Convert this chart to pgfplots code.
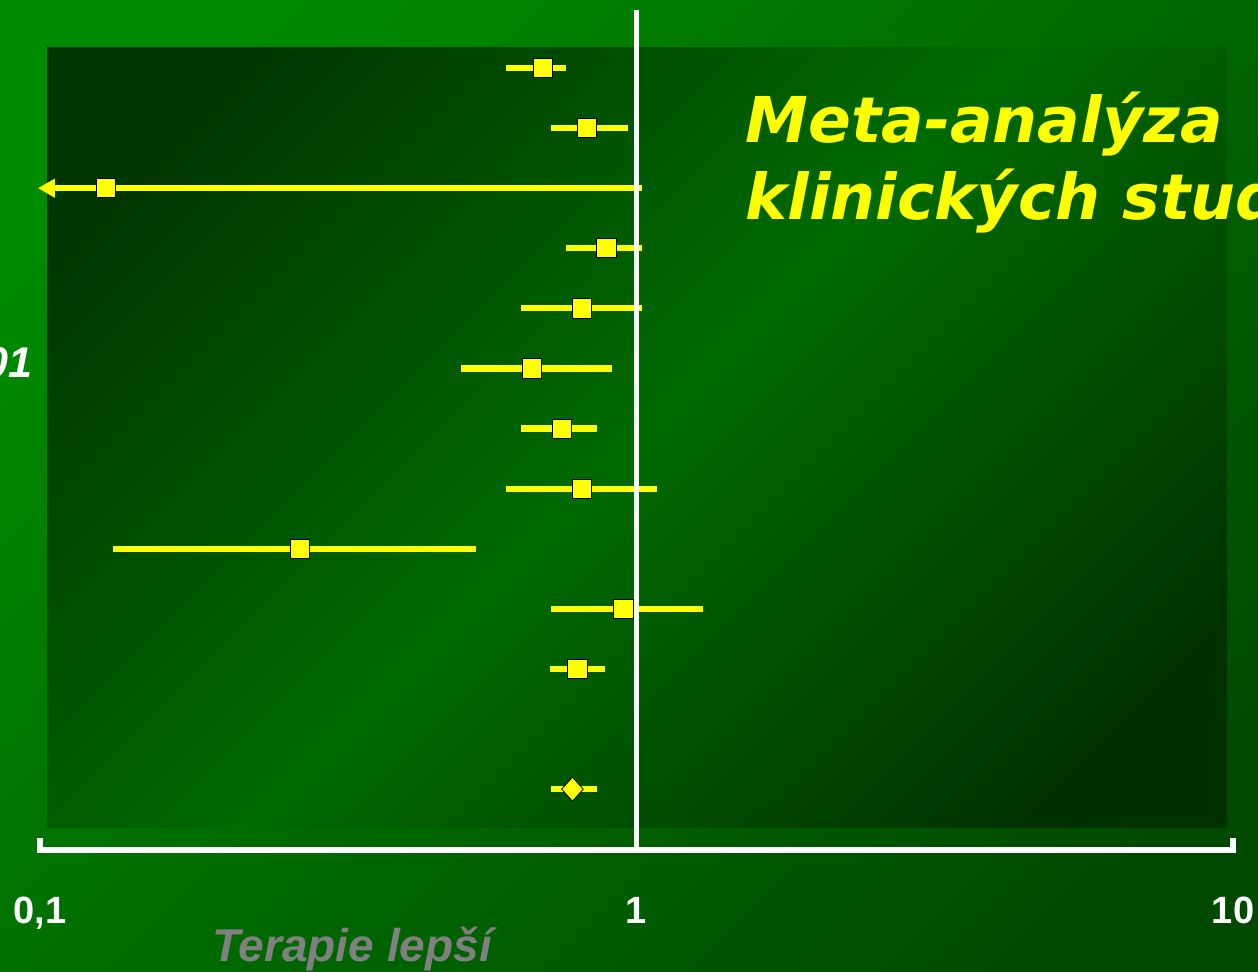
\documentclass[border=0pt]{standalone}
\usepackage{fontspec}
\setmainfont{Liberation Sans}
\newfontfamily\verd{DejaVu Sans}
\usepackage{pgfplots}
\usepackage{pgfplotstable}
\pgfplotsset{compat=1.18}
\usetikzlibrary{arrows.meta}
\definecolor{bgA}{HTML}{008C00}
\definecolor{bgB}{HTML}{004A00}
\definecolor{inA}{HTML}{003600}
\definecolor{inM}{HTML}{006A00}
\definecolor{inB}{HTML}{003200}
\definecolor{ciY}{HTML}{FFFF00}
\definecolor{labgray}{HTML}{808080}
\pgfdeclareverticalshading{innershade}{100bp}{color(0bp)=(inB); color(22bp)=(inB); color(50bp)=(inM); color(78bp)=(inA); color(100bp)=(inA)}
\pgfdeclareverticalshading{outershade}{100bp}{color(0bp)=(bgB); color(22bp)=(bgB); color(78bp)=(bgA); color(100bp)=(bgA)}

% row position (13 = top study), estimate, lower and upper limit
\pgfplotstableread{
y   est    lo     hi
13  0.697  0.605  0.763
12  0.826  0.720  0.966
11  0.129  0.0992 1.02
10  0.890  0.763  1.02
9   0.809  0.641  1.02
8   0.667  0.508  0.910
7   0.750  0.641  0.859
6   0.809  0.605  1.084
5   0.273  0.1326 0.538
4   0.951  0.720  1.294
3   0.796  0.717  0.884
}\studies
\pgfplotstableread{
y   est    lo     hi
1   0.781  0.720  0.859
}\summary

\begin{document}
\begin{tikzpicture}
\useasboundingbox (0,0) rectangle (629pt,486pt);
\clip (0,0) rectangle (629pt,486pt);
\shade[shading=outershade, shading angle=45] (0,0) rectangle (629pt,486pt);
\shade[shading=innershade, shading angle=45] (23.5pt,72pt) rectangle (613.5pt,462pt);

\begin{axis}[
  at={(20pt,61pt)}, anchor=south west,
  scale only axis, width=596.5pt, height=420pt,
  xmode=log, xmin=0.1, xmax=10,
  ymin=-0.012, ymax=13.965,
  clip=false,
  axis line style={draw=none},
  xtick={0.1,1,10}, xticklabels={{0,1},1,10},
  major tick length=0pt, minor tick length=0pt,
  xminorticks=false,
  ytick=\empty,
  xticklabel style={font=\bfseries\fontsize{19}{19}\selectfont, text=white, anchor=base, yshift=-37pt},
  ciline/.style={ciY, line width=3.1pt, no marks},
]
% confidence intervals
\addplot[ciline] coordinates {(0.605,13) (0.763,13)};
\addplot[ciline] coordinates {(0.720,12) (0.966,12)};
\addplot[ciline, -{Triangle[length=8.5pt,width=9pt]}] coordinates {(1.02,11) (0.0992,11)};
\addplot[ciline] coordinates {(0.763,10) (1.02,10)};
\addplot[ciline] coordinates {(0.641,9) (1.02,9)};
\addplot[ciline] coordinates {(0.508,8) (0.910,8)};
\addplot[ciline] coordinates {(0.641,7) (0.859,7)};
\addplot[ciline] coordinates {(0.605,6) (1.084,6)};
\addplot[ciline] coordinates {(0.1326,5) (0.538,5)};
\addplot[ciline] coordinates {(0.720,4) (1.294,4)};
\addplot[ciline] coordinates {(0.717,3) (0.884,3)};
\addplot[ciline] coordinates {(0.720,1) (0.859,1)};
% reference line and x axis
\draw[white, line width=2.6pt] (axis cs:1,-0.012) -- (axis cs:1,13.965);
\draw[white, line width=2.6pt, line join=miter] ([yshift=6pt]axis cs:0.1,-0.012) -- (axis cs:0.1,-0.012) -- (axis cs:10,-0.012) -- ([yshift=6pt]axis cs:10,-0.012);
% point estimates
\addplot[only marks, mark=square*, mark size=4.8pt, mark options={fill=ciY, draw=none}] table[x=est, y=y] {\studies};
\addplot[only marks, mark=diamond*, mark size=6pt, mark options={fill=ciY, draw=none, xscale=1.2}] table[x=est, y=y] {\summary};
\end{axis}

\node[anchor=base west, text=ciY, inner sep=0pt, font=\verd\bfseries\itshape\fontsize{31.6}{38}\selectfont] at (372.5pt,414.5pt) {Meta-analýza};
\node[anchor=base west, text=ciY, inner sep=0pt, font=\verd\bfseries\itshape\fontsize{31.6}{38}\selectfont] at (372.5pt,376pt) {klinických studií};
\node[anchor=base west, text=labgray, inner sep=0pt, font=\bfseries\itshape\fontsize{23}{23}\selectfont] at (106pt,5pt) {Terapie lepší};
\node[anchor=base east, text=white, inner sep=0pt, font=\bfseries\itshape\fontsize{21.5}{22}\selectfont] at (16.5pt,297pt) {01};
\end{tikzpicture}
\end{document}
